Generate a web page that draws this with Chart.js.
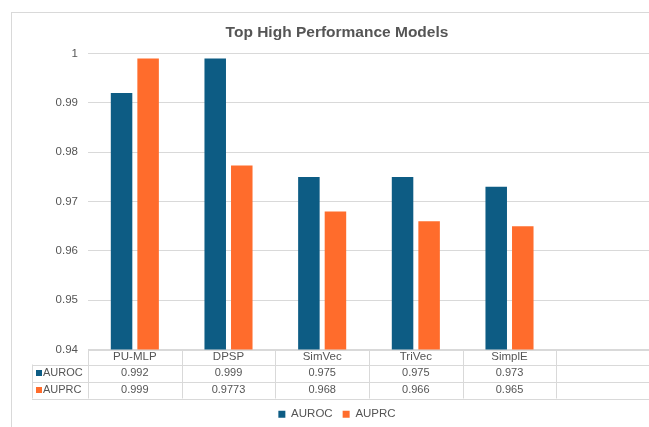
<!DOCTYPE html>
<html>
<head>
<meta charset="utf-8">
<script src="https://cdn.jsdelivr.net/npm/chart.js@4"></script>
<style>
  html, body { margin: 0; padding: 0; overflow: hidden; background: #fff; width: 649px; height: 427px; }
  canvas { display: block; position: absolute; left: 0; top: 0; }
</style>
</head>
<body>
<canvas id="chart" width="670" height="440"></canvas>
<script>
// Model names (the last column of the data table is left empty)
const categories = ['PU-MLP', 'DPSP', 'SimVec', 'TriVec', 'SimplE', ''];
const seriesNames = ['AUROC', 'AUPRC'];
const auroc = [0.992, 0.999, 0.975, 0.975, 0.973];
const auprc = [0.999, 0.9773, 0.968, 0.966, 0.965];
const yTicks = [0.94, 0.95, 0.96, 0.97, 0.98, 0.99, 1];

const INK = '#555555';
const RULE = '#d9d9d9';
const FONT = '"Liberation Sans", Arial, Helvetica, sans-serif';
const COLORS = ['#0d5c84', '#ff6c2c'];

// White background and the light frame around the chart
const framePlugin = {
  id: 'frame',
  beforeDraw(chart) {
    const ctx = chart.ctx;
    ctx.save();
    ctx.fillStyle = '#ffffff';
    ctx.fillRect(0, 0, chart.width, chart.height);
    ctx.strokeStyle = RULE;
    ctx.lineWidth = 1;
    ctx.strokeRect(11.5, 12.5, chart.width, chart.height);
    ctx.restore();
  }
};

// Data table under the plot: header row uses the x-axis labels,
// then one row per dataset with its legend key and values.
const tablePlugin = {
  id: 'dataTable',
  afterDraw(chart) {
    const { ctx, chartArea } = chart;
    const x = chart.scales.x;
    const n = categories.length;
    const colW = x.getPixelForValue(1) - x.getPixelForValue(0);
    const left = chartArea.left, right = chartArea.right;
    const keyLeft = 32;
    const top = chartArea.bottom;
    const headH = 15;
    const bottom = x.bottom;
    const rowH = (bottom - top - headH) / 2;
    const ys = [top, top + headH, top + headH + rowH, bottom];
    const crisp = v => Math.round(v) + 0.5;

    ctx.save();
    ctx.strokeStyle = RULE;
    ctx.lineWidth = 1;
    ctx.beginPath();
    ctx.moveTo(left, crisp(ys[0]));
    ctx.lineTo(right, crisp(ys[0]));
    for (let r = 1; r < ys.length; r++) {
      ctx.moveTo(keyLeft, crisp(ys[r]));
      ctx.lineTo(right, crisp(ys[r]));
    }
    ctx.moveTo(crisp(keyLeft), ys[1]);
    ctx.lineTo(crisp(keyLeft), ys[3]);
    for (let i = 0; i <= n; i++) {
      const xp = crisp(left + i * colW);
      ctx.moveTo(xp, ys[0]);
      ctx.lineTo(xp, ys[3]);
    }
    ctx.stroke();

    ctx.font = '11px ' + FONT;
    ctx.textBaseline = 'middle';
    chart.data.datasets.forEach((ds, r) => {
      const cy = ys[r + 1] + rowH / 2;
      ctx.fillStyle = ds.backgroundColor;
      ctx.fillRect(keyLeft + 4, Math.round(cy - 3), 6, 6);
      ctx.fillStyle = INK;
      ctx.textAlign = 'left';
      ctx.fillText(ds.label, keyLeft + 11, cy);
      ctx.textAlign = 'center';
      ds.data.forEach((v, i) => {
        if (v === undefined || v === null) return;
        ctx.fillText(String(v), x.getPixelForValue(i), cy);
      });
    });
    ctx.restore();
  }
};

new Chart(document.getElementById('chart'), {
  type: 'bar',
  data: {
    labels: categories,
    datasets: [
      { label: seriesNames[0], data: auroc, backgroundColor: COLORS[0], borderWidth: 0 },
      { label: seriesNames[1], data: auprc, backgroundColor: COLORS[1], borderWidth: 0 }
    ]
  },
  plugins: [framePlugin, tablePlugin],
  options: {
    responsive: false,
    devicePixelRatio: 1,
    animation: false,
    layout: { padding: { left: 24, right: 20, top: 12, bottom: 10 } },
    datasets: { bar: { categoryPercentage: 0.567, barPercentage: 0.81 } },
    scales: {
      x: {
        grid: { display: false, drawTicks: false },
        border: { display: false },
        ticks: { color: INK, font: { family: FONT, size: 11.5 }, padding: 0, autoSkip: false, maxRotation: 0 },
        afterFit(scale) { scale.height = 49; }
      },
      y: {
        min: 0.94,
        max: 1,
        grid: { color: RULE, lineWidth: 1, drawTicks: false },
        border: { display: false },
        afterBuildTicks(scale) { scale.ticks = yTicks.map(v => ({ value: v })); },
        ticks: {
          color: INK,
          font: { family: FONT, size: 11.5 },
          padding: 10,
          callback: v => String(v)
        },
        afterFit(scale) { scale.width = 64; }
      }
    },
    plugins: {
      title: {
        display: true,
        text: 'Top High Performance Models',
        color: INK,
        font: { family: FONT, size: 15.5, weight: 'bold' },
        padding: { top: 11, bottom: 12 }
      },
      legend: {
        position: 'bottom',
        labels: {
          boxWidth: 7,
          boxHeight: 7,
          padding: 10,
          color: INK,
          font: { family: FONT, size: 11.5 }
        }
      },
      tooltip: { enabled: false }
    }
  }
});
</script>
</body>
</html>
